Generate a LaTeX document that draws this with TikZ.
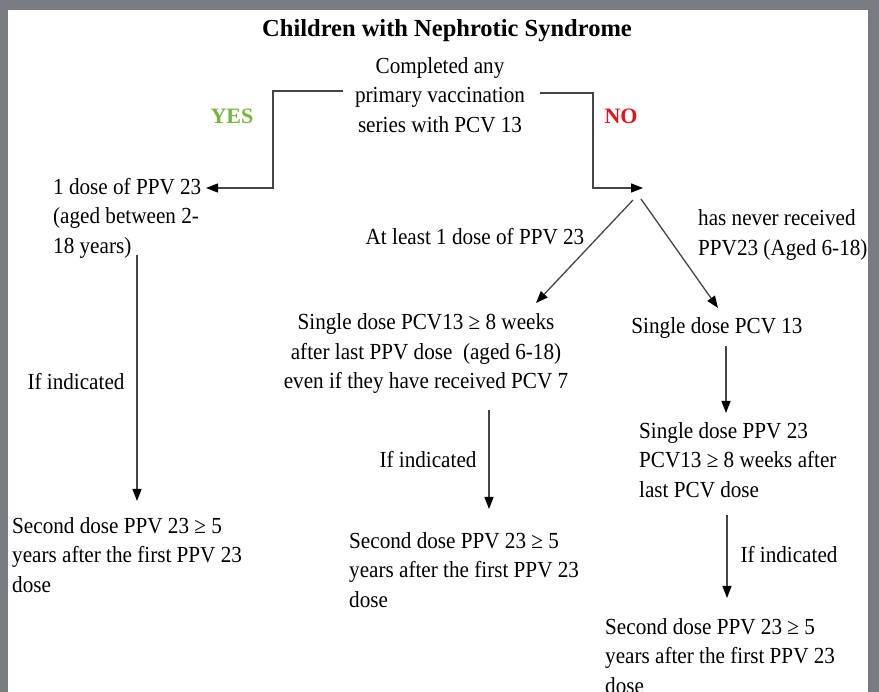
\documentclass[tikz,border=0pt]{standalone}
\usepackage{fontspec}
\setmainfont{Liberation Serif}
\newfontfamily\bodyfont[FakeStretch=0.92]{Liberation Serif}
\usetikzlibrary{arrows.meta}
\definecolor{bordergray}{RGB}{120,124,130}
\definecolor{linegray}{RGB}{70,70,70}
\definecolor{yesgreen}{RGB}{118,182,62}
\definecolor{nored}{RGB}{226,20,26}
\tikzset{
  txt/.style={inner sep=0pt, font=\bodyfont\fontsize{23}{29.5}\selectfont},
  lbl/.style={inner sep=0pt, font=\bfseries\fontsize{22}{26}\selectfont},
  conn/.style={draw=linegray, line width=1.3pt},
  arr/.style={conn, -{Triangle[length=12pt,width=9pt,color=black]}}
}
\begin{document}
\begin{tikzpicture}[x=1pt,y=-1pt]
\useasboundingbox (0,0) rectangle (879,692);
\fill[bordergray] (0,0) rectangle (879,692);
\fill[white] (8,10) rectangle (868,692);
% texts
\node[inner sep=0pt, font=\bfseries\fontsize{24.5}{29}\selectfont] (title) at (447,31) {Children with Nephrotic Syndrome};
\node[txt, align=center] (q) at (440,95) {Completed any\\primary vaccination\\series with PCV 13};
\node[lbl, text=yesgreen] (yes) at (232,116) {YES};
\node[lbl, text=nored] (no) at (621,116) {NO};
\node[txt, align=left, anchor=west] (left1) at (53,218) {1 dose of PPV 23\\(aged between 2-\\18 years)};
\node[txt] (atleast) at (475,237) {At least 1 dose of PPV 23};
\node[txt, align=left, anchor=west] (never) at (698,235) {has never received\\PPV23 (Aged 6-18)};
\node[txt, align=center] (mid1) at (426,354) {Single dose PCV13 ≥ 8 weeks\\after last PPV dose~ (aged 6-18)\\even if they have received PCV 7};
\node[txt] (right1) at (717,328) {Single dose PCV 13};
\node[txt, align=left, anchor=west] (right2) at (639,460) {Single dose PPV 23\\PCV13 ≥ 8 weeks after\\last PCV dose};
\node[txt] (ifl) at (76,382) {If indicated};
\node[txt] (ifm) at (428,460) {If indicated};
\node[txt] (ifr) at (789,555) {If indicated};
\node[txt, align=left, anchor=west] (left2) at (12,555) {Second dose PPV 23 ≥ 5\\years after the first PPV 23\\dose};
\node[txt, align=left, anchor=west] (mid2) at (349,570) {Second dose PPV 23 ≥ 5\\years after the first PPV 23\\dose};
\node[txt, align=left, anchor=west] (right3) at (605,656) {Second dose PPV 23 ≥ 5\\years after the first PPV 23\\dose};
% connector end points
\coordinate (qL) at (343,91);
\coordinate (qR) at (540,93);
\coordinate (yesEnd) at (206,188);
\coordinate (noEnd) at (643,188);
\coordinate (splitL) at (633,200);
\coordinate (splitR) at (641,199);
\coordinate (mid1Top) at (536,303);
\coordinate (right1Top) at (718,308);
\coordinate (right1Bot) at (726,346);
\coordinate (right2Top) at (726,413);
\coordinate (right2Bot) at (727,515);
\coordinate (right3Top) at (727,598);
\coordinate (mid1Bot) at (489,410);
\coordinate (mid2Top) at (489,509);
\coordinate (left1Bot) at (137,255);
\coordinate (left2Top) at (137,501);
% connectors
\draw[arr] (qL) -- (273,91) |- (yesEnd);
\draw[arr] (qR) -- (593,93) |- (noEnd);
\draw[arr] (splitL) -- (mid1Top);
\draw[arr] (splitR) -- (right1Top);
\draw[arr] (right1Bot) -- (right2Top);
\draw[arr] (right2Bot) -- (right3Top);
\draw[arr] (mid1Bot) -- (mid2Top);
\draw[arr] (left1Bot) -- (left2Top);
\end{tikzpicture}
\end{document}
